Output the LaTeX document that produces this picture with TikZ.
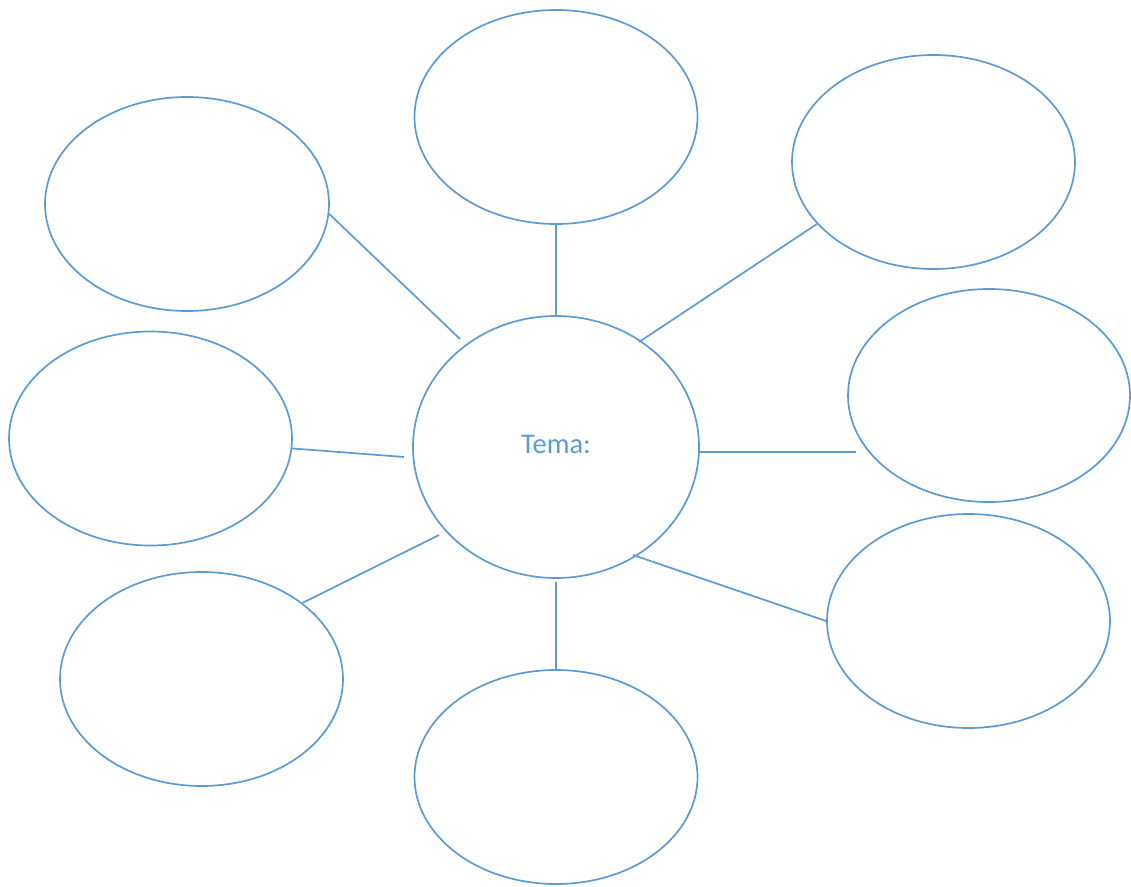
\documentclass[tikz,border=0pt]{standalone}
\usepackage{fontspec}
\setmainfont{Carlito}
\usetikzlibrary{shapes.geometric}
\definecolor{wordblue}{HTML}{5B9BD5}
\begin{document}
\begin{tikzpicture}[x=1pt,y=-1pt,
  bubble/.style={ellipse,draw=wordblue,line width=1.7pt,inner sep=0pt,minimum width=283pt,minimum height=214pt},
  link/.style={draw=wordblue,line width=1.7pt}]
\useasboundingbox (0,0) rectangle (1131,886);
\node[bubble,minimum width=286pt,minimum height=262pt] (c) at (556,447) {};
\node[anchor=base,text=wordblue,font=\fontsize{28.5}{34}\selectfont] (t) at (556,453) {Tema:};
\node[bubble] (top) at (556,117) {};
\node[bubble,minimum width=284pt] (tl) at (187,204) {};
\node[bubble] (tr) at (933.5,162) {};
\node[bubble] (l) at (150.5,438.5) {};
\node[bubble,minimum width=282pt,minimum height=213pt] (r) at (989,395.5) {};
\node[bubble] (bl) at (201.5,679) {};
\node[bubble] (b) at (556,777) {};
\node[bubble] (br) at (968.5,621) {};
% inner ends of connectors
\coordinate (ctop) at (556,317);
\coordinate (ctl) at (460,339);
\coordinate (ctr) at (639,342);
\coordinate (cl) at (404,457);
\coordinate (cr) at (699,452);
\coordinate (rr) at (856,452);
\coordinate (cbl) at (439,535);
\coordinate (cb) at (556,582);
\coordinate (cbr) at (633,555);
\draw[link] (top.south) -- (ctop);
\draw[link] (tl.-4.5) -- (ctl);
\draw[link] (tr.208.2) -- (ctr);
\draw[link] (l.-4.3) -- (cl);
\draw[link] (cr) -- (rr);
\draw[link] (bl.37.5) -- (cbl);
\draw[link] (cb) -- (b.north);
\draw[link] (br.west) -- (cbr);
\end{tikzpicture}
\end{document}
